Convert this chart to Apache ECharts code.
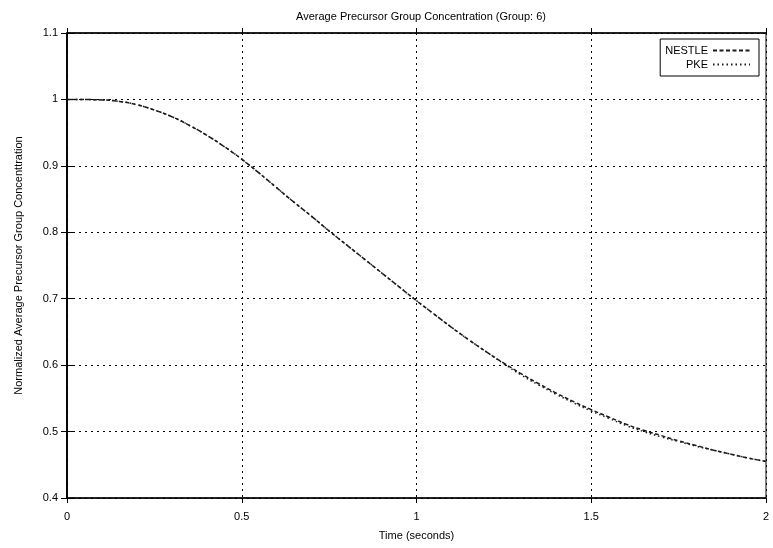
<!DOCTYPE html>
<html>
<head>
<meta charset="utf-8">
<script src="https://cdn.jsdelivr.net/npm/echarts@6/dist/echarts.min.js"></script>
<style>
  html, body { margin: 0; padding: 0; background: #fff; }
  #chart { width: 773px; height: 548px; }
</style>
</head>
<body>
<div id="chart"></div>
<script>
// Time samples (seconds)
const timeSec = [0.00, 0.05, 0.10, 0.15, 0.20, 0.25, 0.30, 0.35, 0.40, 0.45,
                 0.50, 0.55, 0.60, 0.65, 0.70, 0.75, 0.80, 0.85, 0.90, 0.95,
                 1.00, 1.05, 1.10, 1.15, 1.20, 1.25, 1.30, 1.35, 1.40, 1.45,
                 1.50, 1.55, 1.60, 1.65, 1.70, 1.75, 1.80, 1.85, 1.90, 1.95, 2.00];

// Normalized average precursor concentration, group 6
const nestle = [1.000, 0.9998, 0.9993, 0.997, 0.992, 0.984, 0.974, 0.961, 0.946, 0.929,
                0.910, 0.889, 0.867, 0.845, 0.824, 0.802, 0.781, 0.760, 0.739, 0.718,
                0.697, 0.677, 0.657, 0.638, 0.620, 0.603, 0.587, 0.572, 0.558, 0.545,
                0.533, 0.522, 0.511, 0.502, 0.494, 0.486, 0.479, 0.472, 0.466, 0.460, 0.455];

const pke    = [1.000, 0.9998, 0.9993, 0.997, 0.992, 0.984, 0.974, 0.961, 0.946, 0.929,
                0.910, 0.889, 0.867, 0.845, 0.824, 0.802, 0.781, 0.760, 0.739, 0.718,
                0.697, 0.677, 0.657, 0.638, 0.620, 0.602, 0.585, 0.570, 0.556, 0.543,
                0.531, 0.520, 0.509, 0.500, 0.492, 0.485, 0.478, 0.472, 0.466, 0.460, 0.455];

const xTicks = [0, 0.5, 1, 1.5, 2];
const yTicks = [0.4, 0.5, 0.6, 0.7, 0.8, 0.9, 1, 1.1];

const FONT = '"Liberation Sans", Arial, Helvetica, sans-serif';
const pairs = (xs, ys) => xs.map((x, i) => [x, ys[i]]);

const chart = echarts.init(document.getElementById('chart'), null, { renderer: 'canvas' });

const gridLine = { show: true, lineStyle: { color: '#000', width: 1, type: [2, 4] } };

chart.setOption({
  animation: false,
  backgroundColor: '#fff',
  title: {
    text: 'Average Precursor Group Concentration (Group: 6)',
    left: 416, top: 6, textAlign: 'center',
    textStyle: { fontFamily: FONT, fontSize: 11, fontWeight: 'normal', color: '#000' }
  },
  legend: {
    right: 14, top: 39, orient: 'vertical',
    align: 'right',
    padding: [6, 8, 6, 5],
    itemGap: 3, itemWidth: 37, itemHeight: 11,
    borderColor: '#000', borderWidth: 1,
    itemStyle: { color: 'transparent', borderWidth: 0, opacity: 0 },
    formatter: name => '{t|' + name + '}',
    textStyle: {
      fontFamily: FONT, fontSize: 11, color: '#000',
      rich: { t: { width: 46, align: 'right', fontFamily: FONT, fontSize: 11, color: '#000' } }
    },
    data: ['NESTLE', 'PKE']
  },
  grid: {
    left: 67, right: 7, top: 33, bottom: 50,
    show: true, borderColor: '#000', borderWidth: 1
  },
  xAxis: [{
    type: 'value', min: 0, max: 2, interval: 0.5,
    name: 'Time (seconds)', nameLocation: 'middle', nameGap: 32,
    nameTextStyle: { fontFamily: FONT, fontSize: 11, color: '#000' },
    axisLine: { show: true, lineStyle: { color: '#000', width: 1.5 } },
    axisTick: { show: true, inside: false, length: 5, lineStyle: { color: '#000' } },
    axisLabel: {
      fontFamily: FONT, fontSize: 11, color: '#000', margin: 13,
      formatter: v => (xTicks.indexOf(v) >= 0 ? String(v) : '')
    },
    splitLine: gridLine
  }, {
    type: 'value', min: 0, max: 2, interval: 0.5, position: 'top',
    axisLine: { show: true, lineStyle: { color: '#000', width: 1.5 } },
    axisTick: { show: true, inside: false, length: 5, lineStyle: { color: '#000' } },
    axisLabel: { show: false },
    splitLine: { show: false }
  }],
  yAxis: [{
    type: 'value', min: 0.4, max: 1.1, interval: 0.1,
    name: 'Normalized Average Precursor Group Concenttration',
    nameLocation: 'middle', nameGap: 43,
    nameTextStyle: { fontFamily: FONT, fontSize: 11, color: '#000' },
    axisLine: { show: true, lineStyle: { color: '#000', width: 1.5 } },
    axisTick: { show: true, inside: true, length: 6, lineStyle: { color: '#000' } },
    axisLabel: {
      fontFamily: FONT, fontSize: 11, color: '#000', margin: 9,
      formatter: v => {
        const r = Math.round(v * 10) / 10;
        return yTicks.indexOf(r) >= 0 ? String(r) : '';
      }
    },
    splitLine: gridLine
  }, {
    type: 'value', min: 0.4, max: 1.1, interval: 0.1, position: 'right',
    axisLine: { show: true, lineStyle: { color: '#000', width: 1.5 } },
    axisTick: { show: true, inside: true, length: 6, lineStyle: { color: '#000' } },
    axisLabel: { show: false },
    splitLine: { show: false }
  }],
  series: [{
    name: 'NESTLE', type: 'line', xAxisIndex: 0, yAxisIndex: 0,
    data: pairs(timeSec, nestle), smooth: 0.5, symbol: 'none', showSymbol: false,
    lineStyle: { color: '#1a1a1a', width: 1.5, type: [4, 2.5] },
    itemStyle: { color: '#1a1a1a' }
  }, {
    name: 'PKE', type: 'line', xAxisIndex: 0, yAxisIndex: 0,
    data: pairs(timeSec, pke), smooth: 0.5, symbol: 'none', showSymbol: false,
    lineStyle: { color: '#1a1a1a', width: 1.5, type: [1.5, 3] },
    itemStyle: { color: '#1a1a1a' }
  }]
});
</script>
</body>
</html>
